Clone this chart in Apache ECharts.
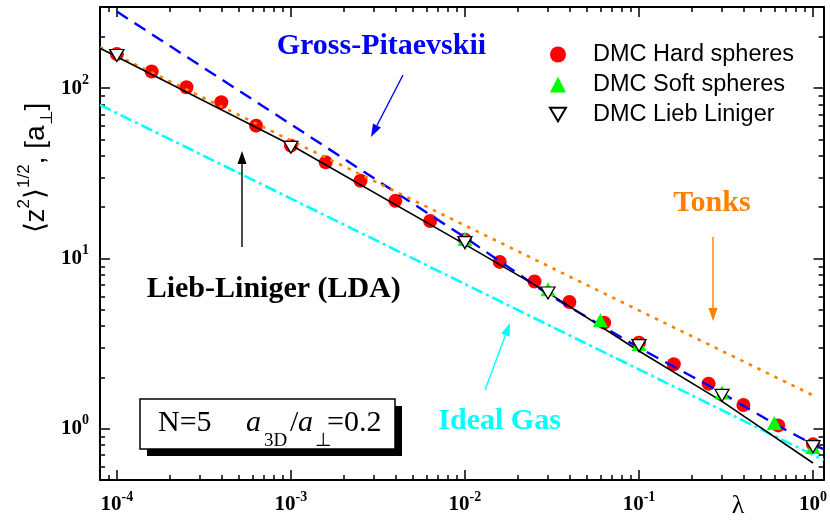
<!DOCTYPE html>
<html><head><meta charset="utf-8">
<script src="https://cdn.jsdelivr.net/npm/echarts@6/dist/echarts.min.js"></script>
<style>html,body{margin:0;padding:0;background:#fff}#c{width:830px;height:521px}</style>
</head><body><div id="c"></div>
<script>
// ---------------- data ----------------
const xMin = 8e-5, xMax = 1.15, yMin = 0.5, yMax = 300;
const xTickExps = [-4, -3, -2, -1, 0];
const yTickExps = [0, 1, 2];

// DMC hard spheres
const lambdaHS = [1e-4, 1.585e-4, 2.512e-4, 3.981e-4, 6.310e-4, 1e-3, 1.585e-3, 2.512e-3, 3.981e-3, 6.310e-3,
                  1e-2, 1.585e-2, 2.512e-2, 3.981e-2, 6.310e-2, 0.1, 0.1585, 0.2512, 0.3981, 0.6310, 1.0];
const zHS = [159, 125.3, 101.4, 82.7, 60.3, 46, 36.7, 28.6, 21.8, 16.6,
             12.9, 9.55, 7.32, 5.55, 4.2, 3.2, 2.39, 1.84, 1.38, 1.046, 0.81];
// DMC soft spheres
const lambdaSS = [0.01, 0.03, 0.06, 0.1, 0.3, 0.6, 1.0];
const zSS = [13.0, 6.6, 4.34, 3.15, 1.63, 1.08, 0.78];
// DMC Lieb-Liniger
const lambdaLL = [1e-4, 1e-3, 1e-2, 0.03, 0.1, 0.3, 1.0];
const zLL = [155.7, 45.0, 12.4, 6.27, 3.08, 1.57, 0.785];
// Gross-Pitaevskii (dashed blue)
const lambdaGP = [1e-4, 1e-3, 1e-2, 0.03, 0.1, 0.25, 0.63, 1.0, 1.15];
const zGP = [282, 61.4, 13.3, 6.17, 2.99, 1.8, 1.04, 0.81, 0.76];
// Tonks (dotted orange)
const lambdaTG = [8e-5, 1.02];
const zTG = [174, 1.555];
// Ideal gas (dash-dot cyan)
const lambdaIG = [8e-5, 1.15];
const zIG = [79.8, 0.655];
// Lieb-Liniger LDA (solid black)
const lambdaLDA = [8e-5, 1e-4, 1e-3, 1e-2, 0.03, 0.1, 0.3, 1.0];
const zLDA = [171.8, 153, 46.4, 12.1, 6.3, 2.86, 1.447, 0.629];

// ---------------- helpers ----------------
const zip = (a, b) => a.map((v, i) => [v, b[i]]);
function minorLogTicks(lo, hi) {
  const out = [];
  for (let e = Math.floor(Math.log10(lo)); e <= Math.ceil(Math.log10(hi)); e++) {
    for (let k = 2; k <= 9; k++) {
      const v = k * Math.pow(10, e);
      if (v > lo && v < hi) out.push(Math.log10(v));
    }
  }
  return out;
}
function expLabel(exps) {
  return function (v) {
    const l = Math.log10(v), e = Math.round(l);
    if (Math.abs(l - e) > 1e-6 || exps.indexOf(e) < 0) return '';
    return '{b|10}{s|' + e + '}';
  };
}
const SERIF = '"Liberation Serif","Times New Roman",serif';
const SANS = '"Liberation Sans",Arial,Helvetica,sans-serif';
const labelRich = {
  b: { fontFamily: SERIF, fontWeight: 'bold', fontSize: 21, lineHeight: 30, color: '#000' },
  s: { fontFamily: SERIF, fontWeight: 'bold', fontSize: 14, lineHeight: 14, verticalAlign: 'top', color: '#000' }
};
const axLine = { show: true, onZero: false, lineStyle: { color: '#000', width: 2 } };
const majTick = { show: true, inside: true, length: 10, lineStyle: { color: '#000', width: 1.5 } };

function logAxis(pos, min, max, exps, showLabel, margin) {
  return {
    type: 'log', logBase: 10, position: pos, min: min, max: max, gridIndex: 0,
    axisLine: axLine, axisTick: majTick, splitLine: { show: false }, minorTick: { show: false },
    axisLabel: showLabel ? { show: true, formatter: expLabel(exps), rich: labelRich, margin: margin } : { show: false }
  };
}
function minorAxis(pos, min, max) {
  return {
    type: 'value', position: pos, min: Math.log10(min), max: Math.log10(max), gridIndex: 0,
    axisLine: { show: false, onZero: false }, splitLine: { show: false }, axisLabel: { show: false },
    axisTick: { show: true, inside: true, length: 5, customValues: minorLogTicks(min, max),
                lineStyle: { color: '#000', width: 1.5 } }
  };
}
function arrow(x1, y1, x2, y2, color) {
  const dx = x2 - x1, dy = y2 - y1, L = Math.hypot(dx, dy);
  const ux = dx / L, uy = dy / L, hl = 13, hw = 4.5;
  const bx = x2 - ux * hl, by = y2 - uy * hl;
  return [
    { type: 'line', shape: { x1: x1, y1: y1, x2: bx, y2: by }, style: { stroke: color, lineWidth: 1.4 }, z: 20 },
    { type: 'polygon', shape: { points: [[x2, y2], [bx - uy * hw, by + ux * hw], [bx + uy * hw, by - ux * hw]] },
      style: { fill: color }, z: 20 }
  ];
}
function label(text, x, y, color, size) {
  return { type: 'text', x: x, y: y, z: 20,
    style: { text: text, fill: color, font: 'bold ' + size + 'px ' + SERIF, align: 'left', verticalAlign: 'middle' } };
}
const boxFont = 30, subFont = 19;
function boxText(t, x, y, size, italic) {
  return { type: 'text', x: x, y: y, z: 22,
    style: { text: t, fill: '#000', font: (italic ? 'italic ' : '') + size + 'px ' + SERIF, align: 'left', verticalAlign: 'middle' } };
}

const downTri = 'path://M0,0L20,0L10,17Z';

const option = {
  animation: false,
  backgroundColor: '#fff',
  grid: { left: 100, right: 6, top: 7, bottom: 41, containLabel: false },
  xAxis: [
    logAxis('bottom', xMin, xMax, xTickExps, true, 10),
    logAxis('top', xMin, xMax, xTickExps, false),
    minorAxis('bottom', xMin, xMax),
    minorAxis('top', xMin, xMax)
  ],
  yAxis: [
    logAxis('left', yMin, yMax, yTickExps, true, 11),
    logAxis('right', yMin, yMax, yTickExps, false),
    minorAxis('left', yMin, yMax),
    minorAxis('right', yMin, yMax)
  ],
  legend: {
    orient: 'vertical', left: 549, top: 42.5, padding: 0, itemGap: 6,
    itemWidth: 16, itemHeight: 16,
    data: ['DMC Hard spheres', 'DMC Soft spheres', 'DMC Lieb Liniger'],
    textStyle: { fontFamily: SANS, fontSize: 23.5, lineHeight: 23, color: '#000', padding: [0, 0, 0, 22] }
  },
  series: [
    { name: 'DMC Hard spheres', type: 'scatter', data: zip(lambdaHS, zHS), symbol: 'circle', symbolSize: 14,
      itemStyle: { color: '#ff0000', opacity: 1 }, z: 2 },
    { name: 'Gross-Pitaevskii', type: 'line', data: zip(lambdaGP, zGP), showSymbol: false, symbol: 'none',
      lineStyle: { color: '#0000ff', width: 2.4, type: [13, 8] }, z: 3 },
    { name: 'Tonks', type: 'line', data: zip(lambdaTG, zTG), showSymbol: false, symbol: 'none',
      lineStyle: { color: '#ff8000', width: 2.6, type: [3.5, 6] }, z: 3 },
    { name: 'Ideal Gas', type: 'line', data: zip(lambdaIG, zIG), showSymbol: false, symbol: 'none',
      lineStyle: { color: '#00ffff', width: 2.6, type: [12, 4, 3, 4] }, z: 3 },
    { name: 'Lieb-Liniger (LDA)', type: 'line', data: zip(lambdaLDA, zLDA), showSymbol: false, symbol: 'none',
      lineStyle: { color: '#000', width: 1.6 }, z: 3 },
    { name: 'DMC Soft spheres', type: 'scatter', data: zip(lambdaSS, zSS), symbol: 'triangle', symbolSize: [15, 14],
      itemStyle: { color: '#00ff00', opacity: 1 }, z: 4 },
    { name: 'DMC Lieb Liniger', type: 'scatter', data: zip(lambdaLL, zLL), symbol: downTri, symbolSize: [14, 12],
      itemStyle: { color: '#ffffff', borderColor: '#000', borderWidth: 1.3, opacity: 1 }, z: 5 }
  ],
  graphic: [].concat(
    [
      label('Gross-Pitaevskii', 276.7, 46.6, '#0000ff', 30),
      label('Tonks', 673.3, 203.2, '#ff8000', 30),
      label('Lieb-Liniger (LDA)', 146.7, 289.2, '#000000', 30),
      label('Ideal Gas', 438.3, 421.6, '#00ffff', 30)
    ],
    arrow(403, 75, 371, 137, '#0000ff'),
    arrow(713, 237, 713, 321, '#ff8000'),
    arrow(242, 247, 242, 151, '#000000'),
    arrow(485, 390, 510, 323, '#00ffff'),
    [
      { type: 'rect', shape: { x: 147, y: 406, width: 255, height: 50 }, style: { fill: '#000' }, z: 21 },
      { type: 'rect', shape: { x: 140, y: 399, width: 255, height: 50 }, style: { fill: '#fff', stroke: '#000', lineWidth: 1.5 }, z: 21 },
      boxText('N=5', 158, 423.2, boxFont, false),
      boxText('a', 246, 423.2, boxFont, true),
      boxText('3D', 264, 441.5, subFont, false),
      boxText('/', 290, 423.2, boxFont, false),
      boxText('a', 298, 423.2, boxFont, true),
      boxText('\u22A5', 315, 441.5, subFont, false),
      boxText('=0.2', 327, 423.2, boxFont, false),
      { type: 'text', x: 738, y: 506, z: 20,
        style: { text: '\u03BB', fill: '#000', font: '26px ' + SERIF, align: 'center', verticalAlign: 'middle' } },
      { type: 'text', x: 36, y: 168, rotation: Math.PI / 2, z: 20,
        style: { text: '{n|\u27E8z}{s|2}{n|\u27E9}{s|1/2}{n|, [a}{u|\u22A5}{n|]}', align: 'center', verticalAlign: 'middle',
          rich: {
            n: { fontFamily: SANS, fontSize: 28, lineHeight: 40, color: '#000' },
            s: { fontFamily: SANS, fontSize: 17, lineHeight: 17, verticalAlign: 'top', color: '#000' },
            u: { fontFamily: SANS, fontSize: 17, lineHeight: 17, verticalAlign: 'bottom', color: '#000' }
          } } }
    ]
  )
};
const chart = echarts.init(document.getElementById('c'), null, { renderer: 'canvas' });
chart.setOption(option);
</script>
</body></html>
